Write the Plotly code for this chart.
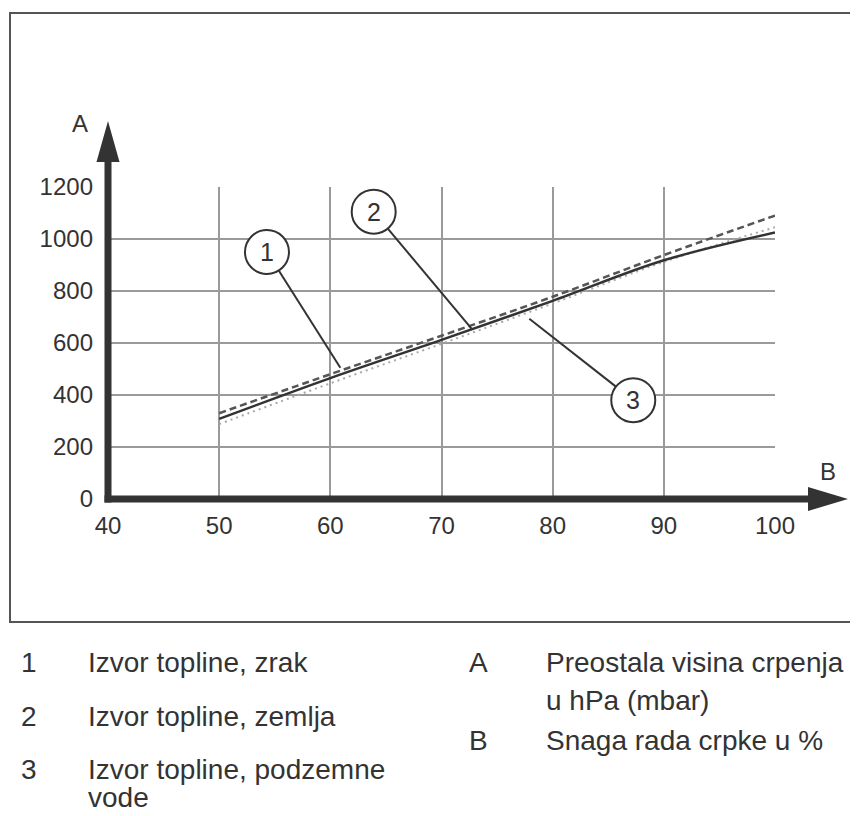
import math
import plotly.graph_objects as go

# the page puts the figure 8px in from the top-left corner
OFF = 8
W, H = 858 - OFF, 816 - OFF
# reference pixel frame of the gridded area: x 40..100, y 0..1200
PX_L, PX_R = 108, 775
PX_B, PX_T = 499, 187

pump_power = [50, 60, 70, 80, 90, 100]
air = [308, 465, 612, 762, 918, 1025]
ground = [330, 480, 628, 778, 938, 1090]
groundwater = [288, 445, 597, 752, 912, 1045]

x_ticks = [40, 50, 60, 70, 80, 90, 100]
y_ticks = [0, 200, 400, 600, 800, 1000, 1200]

callout_labels = ["1", "2", "3"]
callout_centres = [(54.3, 950), (63.9, 1105), (87.25, 380)]
callout_targets = [(60.9, 505), (72.7, 655), (77.9, 693)]

# key: (marker, text lines, reference pixel y of each line)
legend_left = [("1", ["Izvor topline, zrak"], [662]),
               ("2", ["Izvor topline, zemlja"], [716]),
               ("3", ["Izvor topline, podzemne", "vode"], [769, 805])]
legend_right = [("A", ["Preostala visina crpenja", "u hPa (mbar)"], [662, 700]),
                ("B", ["Snaga rada crpke u %"], [740])]

FONT = "Liberation Sans, Arial, sans-serif"
DARK = "#333333"


def px_x(p):
    return (p - PX_L) / (PX_R - PX_L)


def px_y(p):
    return (PX_B - p) / (PX_B - PX_T)


fig = go.Figure()
fig.add_trace(go.Scatter(x=pump_power, y=groundwater, mode="lines",
                         line=dict(color="#a8a8a8", width=2, dash="2px,4px", shape="spline")))
fig.add_trace(go.Scatter(x=pump_power, y=air, mode="lines",
                         line=dict(color="#333333", width=2.5, shape="spline")))
fig.add_trace(go.Scatter(x=pump_power, y=ground, mode="lines",
                         line=dict(color="#555555", width=2.5, dash="7px,4px", shape="spline")))

shapes = []
annotations = []

# outer frame
shapes.append(dict(type="rect", xref="paper", yref="paper",
                   x0=px_x(10), x1=px_x(880), y0=px_y(622), y1=px_y(13),
                   line=dict(color="#555555", width=2)))

# axis arrows
shapes.append(dict(type="line", xref="paper", yref="paper",
                   x0=px_x(PX_L), x1=px_x(PX_L), y0=px_y(PX_B + 3.5), y1=px_y(158),
                   line=dict(color=DARK, width=7)))
shapes.append(dict(type="path", xref="paper", yref="paper",
                   path="M {} {} L {} {} L {} {} Z".format(
                       px_x(96.5), px_y(162), px_x(119.5), px_y(162), px_x(108), px_y(121)),
                   fillcolor=DARK, line=dict(width=0)))
shapes.append(dict(type="line", xref="paper", yref="paper",
                   x0=px_x(PX_L - 3.5), x1=px_x(812), y0=px_y(PX_B), y1=px_y(PX_B),
                   line=dict(color=DARK, width=7)))
shapes.append(dict(type="path", xref="paper", yref="paper",
                   path="M {} {} L {} {} L {} {} Z".format(
                       px_x(808), px_y(487), px_x(808), px_y(511), px_x(848), px_y(499)),
                   fillcolor=DARK, line=dict(width=0)))

for lab, (x, y) in [("A", (80, 123)), ("B", (828, 471))]:
    annotations.append(dict(text=lab, xref="paper", yref="paper", x=px_x(x), y=px_y(y),
                            xanchor="center", yanchor="middle", showarrow=False,
                            font=dict(size=24, color=DARK, family=FONT)))

# numbered callouts
sx = (PX_R - PX_L) / 60
sy = (PX_B - PX_T) / 1200
R = 22
for lab, (cx, cy), (tx, ty) in zip(callout_labels, callout_centres, callout_targets):
    dx, dy = (tx - cx) * sx, (ty - cy) * sy
    d = math.hypot(dx, dy)
    shapes.append(dict(type="line", xref="x", yref="y",
                       x0=cx + dx / d * R / sx, y0=cy + dy / d * R / sy, x1=tx, y1=ty,
                       line=dict(color=DARK, width=2)))
    shapes.append(dict(type="circle", xref="x", yref="y", xsizemode="pixel", ysizemode="pixel",
                       xanchor=cx, yanchor=cy, x0=-R, x1=R, y0=-R, y1=R,
                       fillcolor="white", line=dict(color=DARK, width=2)))
    annotations.append(dict(text=lab, x=cx, y=cy, xref="x", yref="y", showarrow=False,
                            font=dict(size=25, color=DARK, family=FONT)))


def key_text(text, x, y):
    annotations.append(dict(text=text, xref="paper", yref="paper", x=px_x(x), y=px_y(y),
                            xanchor="left", yanchor="middle", showarrow=False,
                            font=dict(size=28, color=DARK, family=FONT)))


# key below the chart
for (k, lines, ys), (kx, tx) in ([(e, (19, 86)) for e in legend_left]
                                 + [(e, (467, 544)) for e in legend_right]):
    key_text(k, kx, ys[0])
    for line, y in zip(lines, ys):
        if y > 800:
            # last line sits on the lower edge: anchor it by its bottom
            annotations.append(dict(text=line, xref="paper", yref="paper", x=px_x(tx),
                                    y=px_y(815), xanchor="left", yanchor="bottom",
                                    showarrow=False,
                                    font=dict(size=28, color=DARK, family=FONT)))
        else:
            key_text(line, tx, y)

fig.update_layout(
    width=W, height=H,
    margin=dict(l=PX_L - OFF, r=W - (PX_R - OFF), t=PX_T - OFF, b=H - (PX_B - OFF), pad=0),
    paper_bgcolor="white", plot_bgcolor="white",
    showlegend=False,
    shapes=shapes, annotations=annotations,
    font=dict(family=FONT, color=DARK),
)
fig.update_xaxes(range=[40, 100], tickvals=x_ticks, showgrid=True, gridcolor="#9a9a9a",
                 gridwidth=2, zeroline=False, showline=False, ticks="",
                 tickfont=dict(size=24, color=DARK, family=FONT), ticklabelstandoff=10)
fig.update_yaxes(range=[0, 1200], tickvals=y_ticks, showgrid=True, gridcolor="#9a9a9a",
                 gridwidth=2, zeroline=False, showline=False, ticks="",
                 tickfont=dict(size=24, color=DARK, family=FONT), ticklabelstandoff=14)

fig.write_html("out.html")
